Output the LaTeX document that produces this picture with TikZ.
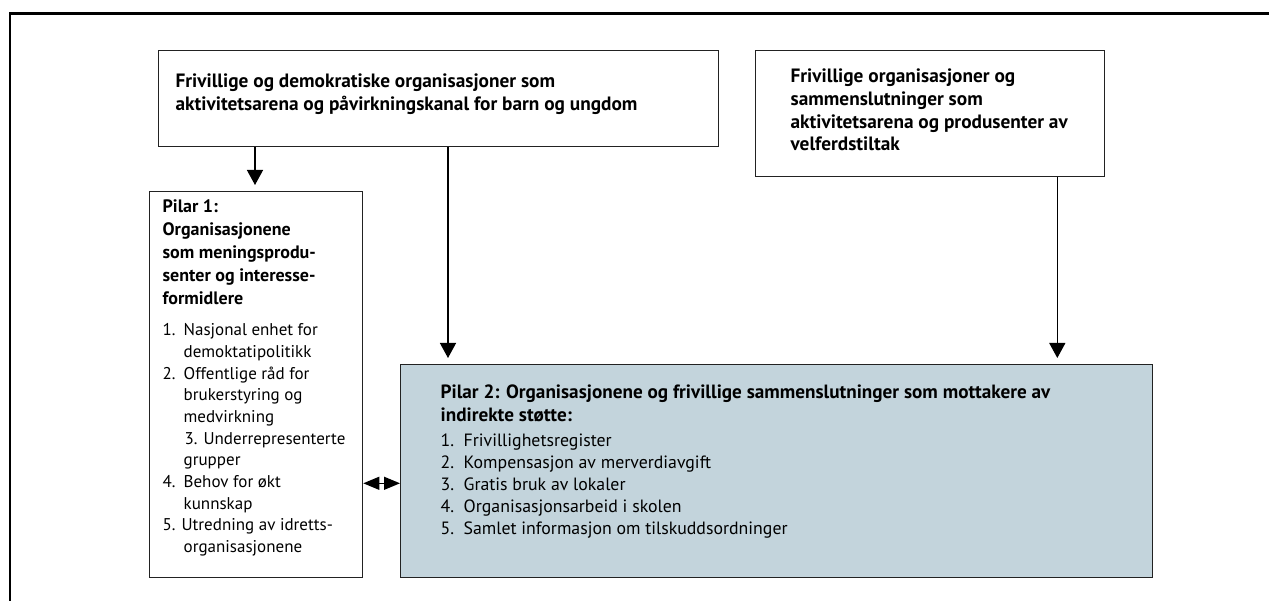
\documentclass[tikz,border=0pt]{standalone}
\usepackage{fontspec}
\setmainfont{PT Sans}
\usepackage{xcolor}
\definecolor{pale-blue}{HTML}{C3D4DC}
\definecolor{box-line}{HTML}{222222}
\usetikzlibrary{arrows.meta}
\tikzset{box/.style = {draw=box-line, line width=1.3pt, anchor=north west, inner sep=0pt}}
\tikzset{arr/.style = {line width=1.3pt, -{Triangle[width=16pt,length=15pt]}, shorten >=6pt}}
\tikzset{darr/.style = {line width=1.3pt, {Triangle[width=13pt,length=16pt]}-{Triangle[width=13pt,length=16pt]}}}
\tikzset{frame/.style = {line width=2.7pt}}
\newcommand{\boxtext}[4]{\parbox[c][#2][t]{#1}{\raggedright\leftskip=#3 #4}}
\newcommand{\headfont}[2]{\fontsize{#1}{#2}\bfseries\selectfont}
\newcommand{\listfont}[2]{\fontsize{#1}{#2}\selectfont}
\newcommand{\nr}[2]{\makebox[#1][l]{#2}}

\begin{document}
\begin{tikzpicture}[x=1pt, y=-1pt]
\useasboundingbox (0,0) rectangle (1269,601);

\draw[frame] (10,601) -- (10,13.8) -- (1269,13.8);

\node[box] (a) at (158,50) {\boxtext{560pt}{96pt}{17pt}{%
  {\headfont{19.3}{23}\rule{0pt}{37pt}Frivillige og demokratiske organisasjoner som\\
  aktivitetsarena og påvirkningskanal for barn og ungdom\par}}};
\node[box] (b) at (755,50) {\boxtext{349pt}{126pt}{35pt}{%
  {\headfont{19.3}{22.7}\rule{0pt}{32pt}Frivillige organisasjoner og\\
  sammenslutninger som\\
  aktivitetsarena og produsenter av\\
  velferdstiltak\par}}};
\node[box] (p1) at (149,191) {\boxtext{213pt}{386pt}{13pt}{%
  {\headfont{18}{23}\rule{0pt}{21pt}Pilar 1:\\
  Organisasjonene\\
  som meningsprodu-\\
  senter og interesse-\\
  formidlere\par}
  \vspace{9.3pt}
  {\listfont{17}{21.7}\nr{21pt}{1.}Nasjonal enhet for\\
  \hspace*{21pt}demoktatipolitikk\\
  \nr{21pt}{2.}Offentlige råd for\\
  \hspace*{21pt}brukerstyring og\\
  \hspace*{21pt}medvirkning\\
  \hspace*{22pt}3. Underrepresenterte\\
  \hspace*{21pt}grupper\\
  \nr{21pt}{4.}Behov for økt\\
  \hspace*{21pt}kunnskap\\
  5. Utredning av idretts-\\
  \hspace*{21pt}organisasjonene\par}}};
\node[box, fill=pale-blue] (p2) at (400,364) {\boxtext{752pt}{213pt}{40pt}{%
  {\headfont{19.2}{23}\rule{0pt}{34pt}Pilar 2: Organisasjonene og frivillige sammenslutninger som mottakere av\\
  indirekte støtte:\par}
  \vspace{3pt}
  {\listfont{17.8}{22}\nr{23pt}{1.}Frivillighetsregister\\
  \nr{23pt}{2.}Kompensasjon av merverdiavgift\\
  \nr{23pt}{3.}Gratis bruk av lokaler\\
  \nr{23pt}{4.}Organisasjonsarbeid i skolen\\
  \nr{23pt}{5.}Samlet informasjon om tilskuddsordninger\par}}};

\draw[arr] ([xshift=97pt]a.south west) -- ([xshift=97pt]a.south west |- p1.north);
\draw[arr] ([xshift=48pt]p2.north west |- a.south) -- ([xshift=48pt]p2.north west);
\draw[arr] ([xshift=-48pt]b.south east) -- ([xshift=-48pt]b.south east |- p2.north);
\draw[darr] ([yshift=95pt]p1.south east) -- ([yshift=95pt]p1.south east -| p2.west);

\end{tikzpicture}
\end{document}
